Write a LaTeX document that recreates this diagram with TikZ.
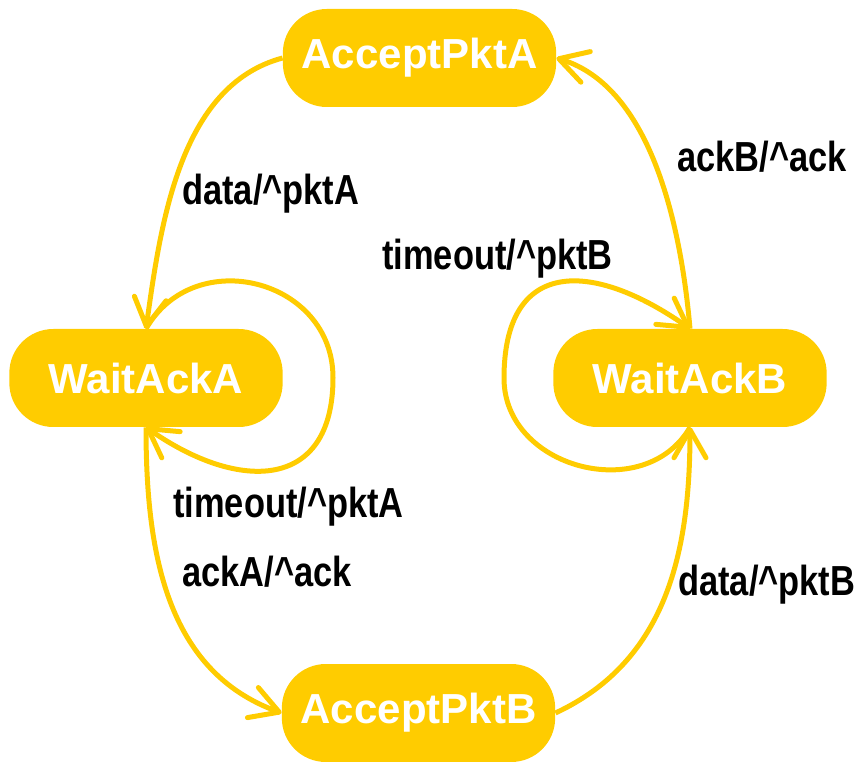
\documentclass[tikz,border=0pt]{standalone}
\usepackage{fontspec}
\setmainfont{Liberation Sans}
\newfontfamily\etroit{Liberation Sans}[FakeStretch=0.82]
\usetikzlibrary{arrows.meta}
\definecolor{jaune}{HTML}{FFCC00}
\newcommand{\taille}{\fontsize{31.5}{36}\selectfont}
\newcommand{\circo}{\textasciicircum{}}
\tikzset{
	etat/.style={fill=jaune, rounded corners=33pt, minimum width=205pt,
		minimum height=73.5pt, inner sep=0pt, text=white, font=\taille\bfseries},
	fleche/.style={draw=jaune, line width=3.75pt,
		-{Straight Barb[length=21pt,width=24pt,round]}},
	etiq/.style={anchor=base west, inner sep=0pt, font=\taille\etroit\bfseries}
}
\newcommand{\trans}[3]{\node[etiq] (#1) at (#2) {#3}}

\begin{document}
\begin{tikzpicture}[x=0.75pt,y=0.75pt]
	\useasboundingbox (0,0) rectangle (857,761);
	\node[etat] (apa) at (419.5,703) {AcceptPktA};
	\node[etat] (waa) at (146,383) {WaitAckA};
	\node[etat] (wab) at (690,383) {WaitAckB};
	\node[etat] (apb) at (418.5,48) {AcceptPktB};
	% transitions
	\draw[fleche] (apa.west) to[out=195,in=82,looseness=0.9] (waa.north);
	\draw[fleche] (waa.north) to[out=60,in=90,looseness=1.3] ++(187,-49)
		to[out=-90,in=-35,looseness=1.5] (waa.south);
	\draw[fleche] (waa.south) to[out=-90,in=160] (apb.west);
	\draw[fleche] (apb.east) to[out=25,in=-90] (wab.south);
	\draw[fleche] (wab.south) to[out=240,in=-90,looseness=1.2] ++(-186,49)
		to[out=90,in=145,looseness=1.6] (wab.north);
	\draw[fleche] (wab.north) to[out=95,in=-17,looseness=0.85] (apa.east);
	% etiquettes
	\trans{dataA}{182,556}{data/\circo pktA};
	\trans{toA}{173,243}{timeout/\circo pktA};
	\trans{ackA}{182,174}{ackA/\circo ack};
	\trans{dataB}{678,166}{data/\circo pktB};
	\trans{toB}{382,491}{timeout/\circo pktB};
	\trans{ackB}{677,589}{ackB/\circo ack};
\end{tikzpicture}
\end{document}
